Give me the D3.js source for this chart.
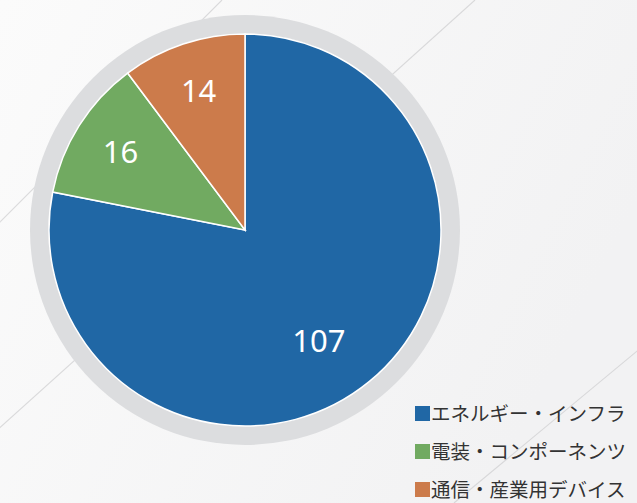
<!DOCTYPE html>
<html lang="ja">
<head>
<meta charset="utf-8">
<script src="https://cdn.jsdelivr.net/npm/d3@7"></script>
<style>
	html, body { margin: 0; padding: 0; background: #f8f8f8; }
	svg { display: block; }
</style>
</head>
<body>
<div id="chart"></div>
<script>
// Segments, clockwise from 12 o'clock
const categories = [ 'エネルギー・インフラ', '電装・コンポーネンツ', '通信・産業用デバイス' ];
const values = [ 107, 16, 14 ];
const colors = [ '#2067a5', '#71aa61', '#cc7b4b' ];

const width = 637;
const height = 503;

const config = {
	cx: 245,
	cy: 230,
	radius: 196,
	ringWidth: 19,
};

const svg = d3.select( '#chart' )
	.append( 'svg' )
	.attr( 'width', width )
	.attr( 'height', height );

// background with soft diagonal lines
const defs = svg.append( 'defs' );
const bg = defs.append( 'linearGradient' )
	.attr( 'id', 'bg' )
	.attr( 'x1', 0 ).attr( 'y1', 0 )
	.attr( 'x2', 1 ).attr( 'y2', 0.4 );
bg.append( 'stop' ).attr( 'offset', 0 ).attr( 'stop-color', '#fbfbfb' );
bg.append( 'stop' ).attr( 'offset', 1 ).attr( 'stop-color', '#f2f2f3' );

svg.append( 'rect' )
	.attr( 'width', width )
	.attr( 'height', height )
	.attr( 'fill', 'url(#bg)' );

// decorative streaks: [x at top edge, slope]
const streaks = [ [ 222, 1.0 ], [ 475, 0.9 ], [ 1060, 0.83 ] ];
svg.append( 'g' )
	.selectAll( 'line' )
	.data( streaks )
	.enter()
	.append( 'line' )
	.attr( 'x1', ( d ) => d[ 0 ] )
	.attr( 'y1', 0 )
	.attr( 'x2', ( d ) => d[ 0 ] - height / d[ 1 ] )
	.attr( 'y2', height )
	.attr( 'stroke', '#cacacc' )
	.attr( 'stroke-width', 1.1 )
	.attr( 'opacity', 0.65 );

const g = svg.append( 'g' )
	.attr( 'transform', `translate(${ config.cx }, ${ config.cy })` );

// grey ring behind the pie
g.append( 'circle' )
	.attr( 'r', config.radius + config.ringWidth )
	.attr( 'fill', '#dcdddf' );

const data = categories.map( ( c, i ) => ( { name: c, value: values[ i ], color: colors[ i ] } ) );

const pie = d3.pie()
	.value( ( d ) => d.value )
	.sort( null );

const arc = d3.arc()
	.innerRadius( 0 )
	.outerRadius( config.radius );

const arcs = pie( data );

g.selectAll( 'path' )
	.data( arcs )
	.enter()
	.append( 'path' )
	.attr( 'd', arc )
	.attr( 'fill', ( d ) => d.data.color )
	.attr( 'stroke', '#fff' )
	.style( 'stroke-width', '1.5px' );

// labels: big slice sits a bit closer in
const labelPos = ( d ) => {
	const big = d.endAngle - d.startAngle > Math.PI;
	const r = config.radius * ( big ? 0.68 : 0.75 );
	const a = ( d.startAngle + d.endAngle ) / 2 + ( big ? 0.1 : 0 );
	return [ Math.sin( a ) * r, -Math.cos( a ) * r ];
};

g.selectAll( 'text.slice-label' )
	.data( arcs )
	.enter()
	.append( 'text' )
	.attr( 'class', 'slice-label' )
	.attr( 'transform', ( d ) => `translate(${ labelPos( d ) })` )
	.attr( 'text-anchor', 'middle' )
	.attr( 'dy', '0.36em' )
	.style( 'fill', '#fff' )
	.style( 'font-family', '"Noto Sans", "Open Sans", sans-serif' )
	.style( 'font-size', '31px' )
	.text( ( d ) => d.data.value );

// legend
const legend = svg.append( 'g' )
	.attr( 'transform', 'translate(415, 414)' );

const item = legend.selectAll( 'g' )
	.data( data )
	.enter()
	.append( 'g' )
	.attr( 'transform', ( d, i ) => `translate(0, ${ i * 38 })` );

item.append( 'rect' )
	.attr( 'x', 0 )
	.attr( 'y', -8 )
	.attr( 'width', 15 )
	.attr( 'height', 15 )
	.attr( 'fill', ( d ) => d.color );

item.append( 'text' )
	.attr( 'x', 16 )
	.attr( 'dy', '0.35em' )
	.style( 'fill', '#333' )
	.style( 'font-family', '"Noto Sans CJK JP", sans-serif' )
	.style( 'font-size', '19.5px' )
	.text( ( d ) => d.name );
</script>
</body>
</html>
